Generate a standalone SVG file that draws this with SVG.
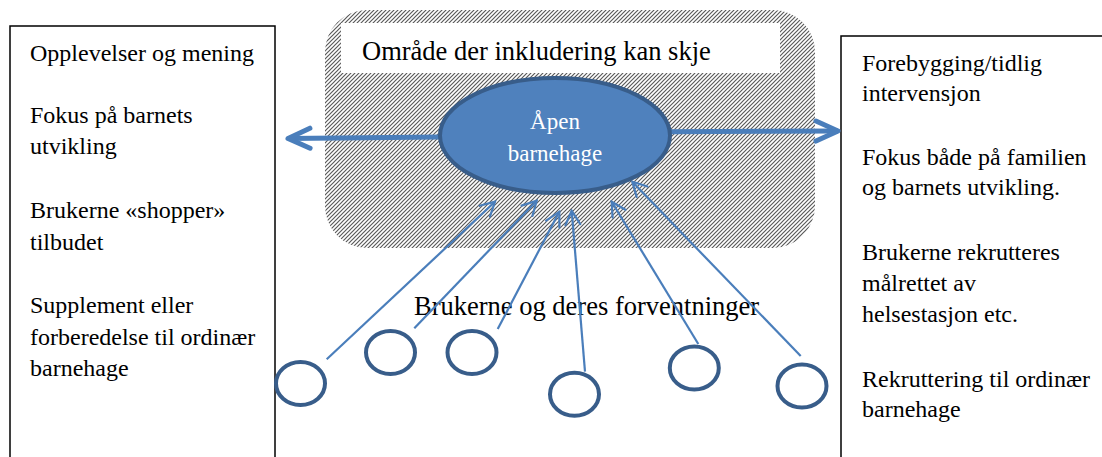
<svg xmlns="http://www.w3.org/2000/svg" width="1102" height="457" viewBox="0 0 1102 457">
  <style>
    .t { font-family: "Liberation Serif", "Times New Roman", serif; fill: #000; }
    .box { fill: #fff; stroke: #000; stroke-width: 1.5; }
    .user { fill: none; stroke: #385D8A; stroke-width: 4; }
    .thick { stroke: #4A7EBB; stroke-width: 5; fill: none; }
    .thin { stroke: #4A7EBB; stroke-width: 2.2; fill: none; }
  </style>
  <defs>
    <pattern id="hatch" patternUnits="userSpaceOnUse" width="4" height="4">
      <path d="M-1,5 L5,-1 M-1,1 L1,-1 M3,5 L5,3" stroke="#5a5a5a" stroke-width="1.2"/>
    </pattern>
    <marker id="bigopen" markerUnits="userSpaceOnUse" viewBox="-4 -4 30 28" markerWidth="30" markerHeight="28" refX="22" refY="10" orient="auto">
      <path d="M0,0 L22,10 L0,20" fill="none" stroke="#4A7EBB" stroke-width="5" stroke-linecap="round" stroke-linejoin="round"/>
    </marker>
    <marker id="open" markerUnits="userSpaceOnUse" viewBox="-2 -2 18 19" markerWidth="18" markerHeight="19" refX="14" refY="7.5" orient="auto">
      <path d="M0,0 L14,7.5 L0,15" fill="none" stroke="#4A7EBB" stroke-width="2.2" stroke-linecap="round"/>
    </marker>
  </defs>
  <rect width="1102" height="457" fill="#fff"/>

  <g id="left-box">
    <rect class="box" x="10" y="26" width="265" height="445"/>
    <g class="t" font-size="24">
      <text x="30" y="61">Opplevelser og mening</text>
      <text x="30" y="122.5">Fokus på barnets</text>
      <text x="30" y="154">utvikling</text>
      <text x="30" y="218">Brukerne «shopper»</text>
      <text x="30" y="250">tilbudet</text>
      <text x="30" y="313">Supplement eller</text>
      <text x="30" y="345">forberedelse til ordinær</text>
      <text x="30" y="376">barnehage</text>
    </g>
  </g>

  <g id="right-box">
    <rect class="box" x="841" y="36" width="275" height="440"/>
    <g class="t" font-size="24">
      <text x="862" y="71">Forebygging/tidlig</text>
      <text x="862" y="101">intervensjon</text>
      <text x="862" y="165">Fokus både på familien</text>
      <text x="862" y="195">og barnets utvikling.</text>
      <text x="862" y="260">Brukerne rekrutteres</text>
      <text x="862" y="291">målrettet av</text>
      <text x="862" y="322">helsestasjon etc.</text>
      <text x="862" y="387">Rekruttering til ordinær</text>
      <text x="862" y="417">barnehage</text>
    </g>
  </g>

  <g id="inclusion-area">
    <rect x="325" y="10" width="490" height="238" rx="42" ry="42" fill="url(#hatch)"/>
    <rect x="341" y="23" width="439" height="50" fill="#fff"/>
    <text class="t" x="362" y="60" font-size="26.5">Område der inkludering kan skje</text>
  </g>

  <g id="users-label">
    <text class="t" x="414" y="315" font-size="26.5">Brukerne og deres forventninger</text>
  </g>

  <g id="connectors">
    <line class="thick" x1="440" y1="137" x2="288" y2="138.4" marker-end="url(#bigopen)"/>
    <line class="thick" x1="670" y1="131.7" x2="838" y2="131" marker-end="url(#bigopen)"/>
    <line class="thin" x1="326.7" y1="359.3" x2="495" y2="201.7" marker-end="url(#open)"/>
    <line class="thin" x1="414.3" y1="328.3" x2="536.7" y2="200.7" marker-end="url(#open)"/>
    <line class="thin" x1="497.7" y1="329" x2="559.3" y2="211.7" marker-end="url(#open)"/>
    <line class="thin" x1="585" y1="371.7" x2="571.7" y2="210.7" marker-end="url(#open)"/>
    <line class="thin" x1="698.3" y1="344" x2="611.7" y2="201.7" marker-end="url(#open)"/>
    <line class="thin" x1="800.7" y1="356" x2="632.3" y2="181.7" marker-end="url(#open)"/>
  </g>

  <g id="apen-barnehage">
    <ellipse cx="555" cy="135.5" rx="115" ry="57.5" fill="#4F81BD" stroke="#385D8A" stroke-width="4"/>
    <text x="555" y="129" font-size="23" text-anchor="middle" font-family="Liberation Serif, serif" fill="#fff">Åpen</text>
    <text x="555" y="161" font-size="23" text-anchor="middle" font-family="Liberation Serif, serif" fill="#fff">barnehage</text>
  </g>

  <g id="user-1"><ellipse class="user" cx="300.5" cy="383.5" rx="24.5" ry="21.5"/></g>
  <g id="user-2"><ellipse class="user" cx="390.5" cy="352.5" rx="24.5" ry="21.5"/></g>
  <g id="user-3"><ellipse class="user" cx="472" cy="352.5" rx="24.5" ry="21.5"/></g>
  <g id="user-4"><ellipse class="user" cx="574.5" cy="394.3" rx="24.5" ry="21.5"/></g>
  <g id="user-5"><ellipse class="user" cx="694.3" cy="368" rx="24.5" ry="21.5"/></g>
  <g id="user-6"><ellipse class="user" cx="802" cy="386" rx="24.5" ry="21.5"/></g>
</svg>
